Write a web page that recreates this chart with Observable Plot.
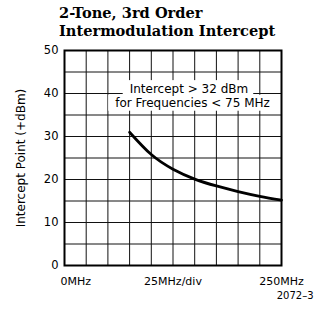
<!DOCTYPE html>
<html><head><meta charset="utf-8">
<script src="https://cdn.jsdelivr.net/npm/d3@7"></script>
<script src="https://cdn.jsdelivr.net/npm/@observablehq/plot@0.6"></script>
<style>
body{margin:0;background:#fff;}
#title{font-family:"DejaVu Serif";font-weight:bold;font-size:14.6px;line-height:17.7px;height:42px;box-sizing:border-box;padding:4.4px 0 0 59px;color:#000;white-space:nowrap;}
#chart svg{display:block;}
</style></head><body>
<div id="title">2-Tone, 3rd Order<br>Intermodulation Intercept</div>
<div id="chart"></div>
<script>
const freqMHz = [75, 100, 125, 150, 175, 200, 225, 250];
const interceptDbm = [31.0, 25.8, 22.4, 20.1, 18.5, 17.2, 16.1, 15.2];
const yTicks = [0, 10, 20, 30, 40, 50];
const xTickStart = [0];
const xTickMid = [125, 250];
const xTickLabels = {0: "0MHz", 125: "25MHz/div", 250: "250MHz"};
const gridXValues = [0, 25, 50, 75, 100, 125, 150, 175, 200, 225, 250];
const gridYValues = [0, 5, 10, 15, 20, 25, 30, 35, 40, 45, 50];
const annotText = ["Intercept > 32 dBm", "for Frequencies < 75 MHz"];
const annotX = [143.4, 147.5];
const annotY = [41.1, 37.7];
const yLabel = "Intercept Point (+dBm)";
const figCode = "2072\u20133";

const curve = freqMHz.map((f, i) => ({f, v: interceptDbm[i]}));
const annot = annotText.map((t, i) => ({t, x: annotX[i], y: annotY[i]}));

const chart = Plot.plot({
  width: 315, height: 269,
  marginTop: 8, marginBottom: 46, marginLeft: 64, marginRight: 34,
  style: {fontFamily: "DejaVu Sans", fontSize: "12px", color: "#000", background: "#fff"},
  x: {domain: [0, 250]},
  y: {domain: [0, 50]},
  marks: [
    Plot.gridX(gridXValues, {stroke: "#111", strokeOpacity: 1, strokeWidth: 1}),
    Plot.gridY(gridYValues, {stroke: "#111", strokeOpacity: 1, strokeWidth: 1}),
    Plot.text(annot, {x: "x", y: "y", text: "t", fontSize: 12, fill: "#000", lineAnchor: "middle"}),
    Plot.axisY(yTicks, {tickSize: 0, tickPadding: 6, fontSize: 11.5, label: null}),
    Plot.axisY([], {label: yLabel, labelAnchor: "center", labelArrow: "none", labelOffset: 48, fontSize: 12, dy: 5}),
    Plot.axisX(xTickStart, {tickSize: 0, tickPadding: 12, fontSize: 11, textAnchor: "start", dx: -4, tickFormat: d => xTickLabels[d], label: null}),
    Plot.axisX(xTickMid, {tickSize: 0, tickPadding: 12, fontSize: 11, tickFormat: d => xTickLabels[d], label: null}),
    Plot.text([figCode], {frameAnchor: "bottom-right", textAnchor: "end", lineAnchor: "bottom", dx: 32, dy: 33, fontSize: 10}),
    Plot.frame({stroke: "#000", strokeWidth: 2}),
    Plot.line(curve, {x: "f", y: "v", curve: "natural", stroke: "#000", strokeWidth: 2.8})
  ]
});
document.getElementById("chart").append(chart);

// white boxes behind annotation lines
const texts = Array.from(chart.querySelectorAll("text")).filter(t => annotText.includes(t.textContent));
texts.forEach(t => {
  const b = t.getBBox();
  const r = document.createElementNS("http://www.w3.org/2000/svg", "rect");
  r.setAttribute("x", b.x - 7);
  r.setAttribute("y", b.y - 1.5);
  r.setAttribute("width", b.width + 12);
  r.setAttribute("height", b.height + 2);
  r.setAttribute("fill", "#fff");
  if (t.getAttribute("transform")) r.setAttribute("transform", t.getAttribute("transform"));
  const g = t.parentNode;
  g.insertBefore(r, g.firstChild);
});
</script>
</body></html>
